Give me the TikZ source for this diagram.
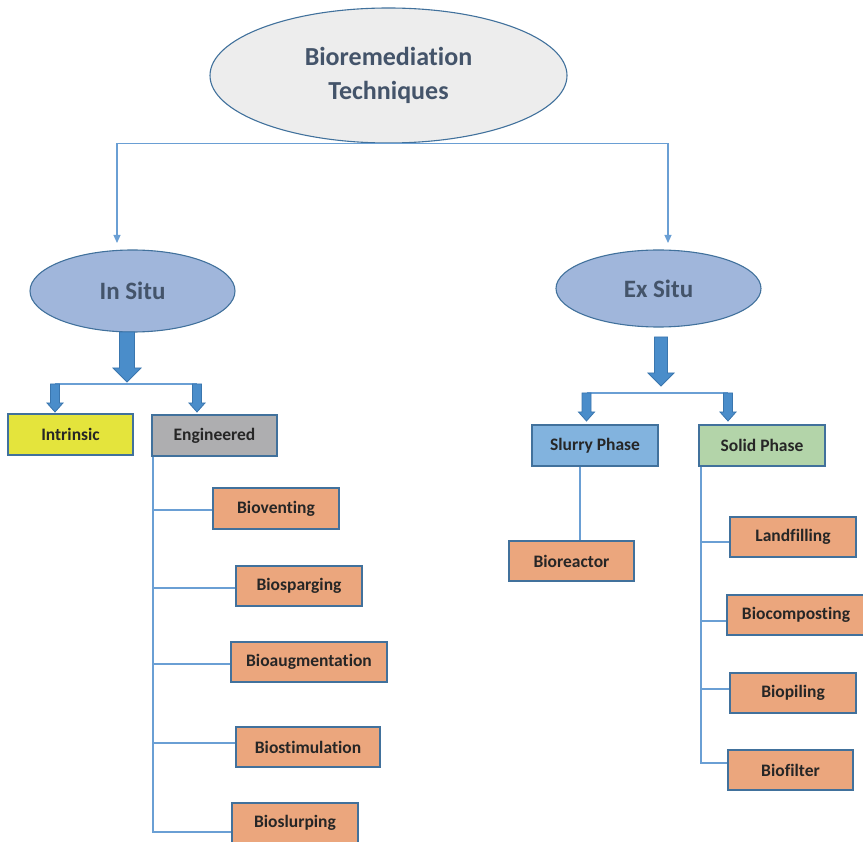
\documentclass[tikz,border=0pt]{standalone}
\usepackage{fontspec}
\setmainfont{Carlito}[Ligatures={NoCommon}]
\usetikzlibrary{shapes.geometric,arrows.meta}
\definecolor{bordc}{HTML}{41719C}
\definecolor{linec}{HTML}{6A9FD4}
\definecolor{titletxt}{HTML}{44546A}
\definecolor{ellgrey}{HTML}{EDEDED}
\definecolor{ellblue}{HTML}{A0B6DB}
\definecolor{orangebox}{HTML}{EBA67D}
\definecolor{yellowbox}{HTML}{E4E43C}
\definecolor{greybox}{HTML}{AEAEB0}
\definecolor{slurryc}{HTML}{82B3DE}
\definecolor{solidc}{HTML}{B3D4A9}
\definecolor{blockc}{HTML}{4A8DCA}
\definecolor{blockb}{HTML}{3A76AE}
\newcommand{\blockarrow}[7]{% cx, top, shaft half, head half, head start, tip, name
  \draw[blk] (#1-#3,#2) -- (#1+#3,#2) -- (#1+#3,#5) -- (#1+#4,#5) -- (#1,#6) coordinate (#7) -- (#1-#4,#5) -- (#1-#3,#5) -- cycle;}
\begin{document}
\begin{tikzpicture}[x=1pt,y=-1pt,
  ell/.style={ellipse, draw=bordc, line width=1.1pt, text=titletxt, inner sep=0pt},
  box/.style={rectangle, draw=bordc, line width=1.4pt, font=\bfseries\fontsize{17.5}{20}\selectfont, text=black!85, inner sep=0pt},
  orb/.style={box, fill=orangebox},
  conn/.style={draw=linec, line width=1.2pt},
  tip/.style={-{Triangle[width=7pt,length=8pt]}},
  blk/.style={fill=blockc, draw=blockb, line width=0.8pt}]
\useasboundingbox (0,0) rectangle (863,842);

% ellipses
\node[ell, fill=ellgrey, minimum width=357, minimum height=135, align=center,
  font=\bfseries\fontsize{26}{34}\selectfont] (top) at (388.5,75.5) {Bioremediation\\Techniques};
\node[ell, fill=ellblue, minimum width=205, minimum height=82,
  font=\bfseries\fontsize{25}{28}\selectfont] (insitu) at (132.5,291) {In Situ};
\node[ell, fill=ellblue, minimum width=205, minimum height=77,
  font=\bfseries\fontsize{25}{28}\selectfont] (exsitu) at (658.5,288.5) {Ex Situ};

% boxes
\node[box, fill=yellowbox, minimum width=125, minimum height=41] (intr) at (70.5,434.5) {Intrinsic};
\node[box, fill=greybox, minimum width=125, minimum height=41] (eng) at (214.5,435.5) {Engineered};
\node[orb, minimum width=126, minimum height=41] (bvent) at (276,508.5) {Bioventing};
\node[orb, minimum width=126, minimum height=40] (bspar) at (299,586) {Biosparging};
\node[orb, minimum width=156, minimum height=40] (baug) at (309,662) {Bioaugmentation};
\node[orb, minimum width=144, minimum height=40] (bstim) at (308,747) {Biostimulation};
\node[orb, minimum width=126, minimum height=40] (bslurp) at (295,823) {Bioslurping};

\node[box, fill=slurryc, minimum width=126, minimum height=41] (slurry) at (595,445.5) {Slurry Phase};
\node[box, fill=solidc, minimum width=126, minimum height=41] (solid) at (762,445.5) {Solid Phase};
\node[orb, minimum width=125, minimum height=40] (breac) at (571.5,561) {Bioreactor};
\node[orb, minimum width=126, minimum height=40] (land) at (793,537) {Landfilling};
\node[orb, minimum width=138, minimum height=40] (bcomp) at (796,615) {Biocomposting};
\node[orb, minimum width=126, minimum height=40] (bpile) at (793,693) {Biopiling};
\node[orb, minimum width=125, minimum height=40] (bfilt) at (790.5,770) {Biofilter};

% top connectors
\coordinate (ta) at (117,243);
\coordinate (tb) at (668,243);
\draw[conn,tip] (top.south) -| (ta);
\draw[conn,tip] (top.south) -| (tb);

% block arrows, in situ
\blockarrow{127}{332}{7.5}{14}{368}{382}{isa}
\coordinate (l1) at (55,384);
\coordinate (l2) at (197,384);
\draw[conn] (l1) -- (l2);
\blockarrow{55}{384}{4.5}{8}{403}{412}{ia1}
\blockarrow{197}{384}{4.5}{8}{403}{412}{ia2}

% block arrows, ex situ
\blockarrow{661}{337}{6.5}{13}{373}{386}{esa}
\coordinate (r1) at (586.5,393);
\coordinate (r2) at (728,393);
\draw[conn] (r1) -- (r2);
\blockarrow{586.5}{393}{4.5}{8}{412}{421}{ea1}
\blockarrow{728}{393}{4.5}{8}{412}{421}{ea2}

% engineered tree
\coordinate (ev) at (153,832);
\draw[conn] (eng.south west -| ev) -- (ev) -- (bslurp.west |- ev);
\draw[conn] (153,510) -- (bvent.west |- 0,510);
\draw[conn] (153,588) -- (bspar.west |- 0,588);
\draw[conn] (153,664) -- (baug.west |- 0,664);
\draw[conn] (153,743) -- (bstim.west |- 0,743);

% slurry
\coordinate (sx) at (580,0);
\draw[conn] (slurry.south -| sx) -- (breac.north -| sx);

% solid tree
\coordinate (sv) at (701,764);
\draw[conn] (solid.south -| sv) -- (sv);
\draw[conn] (701,542) -- (land.west |- 0,542);
\draw[conn] (701,621) -- (bcomp.west |- 0,621);
\draw[conn] (701,689) -- (bpile.west |- 0,689);
\draw[conn] (701,763) -- (bfilt.west |- 0,763);
\end{tikzpicture}
\end{document}
